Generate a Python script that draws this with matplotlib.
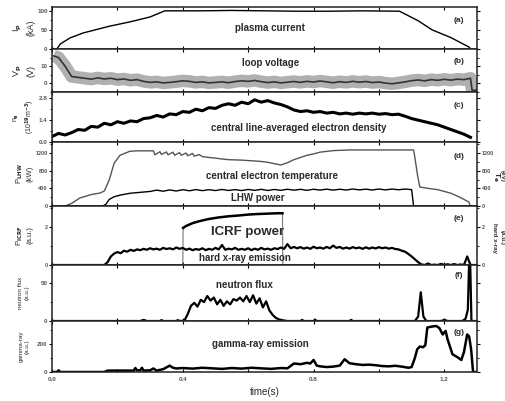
import numpy as np
import matplotlib
matplotlib.use('Agg')
import matplotlib.pyplot as plt
from matplotlib.ticker import MultipleLocator, AutoMinorLocator, FormatStrFormatter

plt.rcParams['font.family'] = ['Liberation Sans', 'DejaVu Sans']
plt.rcParams['font.weight'] = 'bold'
plt.rcParams['mathtext.default'] = 'bf'

# (a) plasma current, kA
ip_t = [0.0, 0.015, 0.025, 0.04, 0.055, 0.095, 0.177, 0.238, 0.30, 0.345, 0.45, 0.55,
        0.65, 0.75, 0.85, 0.95, 1.063, 1.12, 1.163, 1.22, 1.276, 1.28]
ip = [0, 0, 13, 21, 29, 42, 60, 71, 84, 100, 100, 101, 100, 99, 99, 100, 99, 74, 50, 30, 5, 0]

# (b) loop voltage, V (sampled every 20 ms, plus start and end points)
vp_t = np.r_[0.005, np.arange(0.02, 1.285, 0.02), 1.285, 1.30]
vp = [16,
      15, 10, 4, 3.5, 3, 2.5, 3.2, 2.6, 3, 2.2, 2.6, 1.8, 2.2, 1.2, 0.6, 0.9,
      0.3, 0.6, 1.0, 1.5, 1.2, 0.6, 0.9, 0.3, 0.6, 0.9, 0.4, 1.1, 1.5, 1.2,
      1.7, 1.0, 0.5, 0.9, 0.3, 0.7, 1.1, 0.6, 1.2, 0.8, 1.4, 0.9, 0.4, 1.0,
      0.6, 1.2, 0.7, 1.1, 0.5, 0.8, 0.2, -0.2, 0.3, 0.9, 1.6, 2.0, 1.5, 2.2,
      1.8, 2.4, 1.9, 2.5, 2.2, 3.0,
      -4, -4]

# (c) line-averaged density, 1e19 m^-3 (every 20 ms)
ne_t = np.arange(0.0, 1.285, 0.02)
ne = [0.35, 0.55, 0.45, 0.6, 0.8, 0.75, 1.0, 0.95, 1.2, 1.1, 1.3, 1.2, 1.35,
      1.3, 1.5, 1.55, 1.7, 1.6, 1.8, 1.75, 1.95, 1.9, 2.1, 2.0, 2.2, 2.15,
      2.35, 2.45, 2.35, 2.55, 2.45, 2.7, 2.55, 2.65, 2.5, 2.4, 2.25, 2.05,
      1.95, 2.0, 1.9, 1.95, 1.85, 1.9, 1.8, 1.85, 1.78, 1.85, 1.8, 1.85, 1.78,
      1.82, 1.75, 1.78, 1.65, 1.5, 1.4, 1.3, 1.2, 1.1, 0.95, 0.8, 0.65, 0.5, 0.3]

# (d) central electron temperature, eV
te_t = [0, 0.04, 0.06, 0.085, 0.12, 0.147, 0.16, 0.175, 0.19, 0.208,
        0.238, 0.26, 0.31,
        0.315, 0.33, 0.335, 0.35, 0.355, 0.37, 0.375, 0.39, 0.395, 0.41,
        0.415, 0.43, 0.435, 0.45,
        0.46, 0.48, 0.50, 0.52, 0.54, 0.56, 0.58, 0.60, 0.62, 0.64,
        0.66, 0.68, 0.70, 0.72, 0.74, 0.76, 0.78, 0.80, 0.82, 0.86,
        0.91, 0.96, 1.00, 1.04, 1.08, 1.106,
        1.11, 1.118, 1.125, 1.15, 1.18, 1.22, 1.25, 1.275, 1.28, 1.30]
te = [0, 0, 60, 181, 260, 294, 340, 590, 970, 1150,
      1240, 1250, 1250,
      1160, 1230, 1170, 1225, 1160, 1220, 1150, 1210, 1150, 1200,
      1140, 1190, 1130, 1165,
      1120, 1100, 1085, 1065, 1050, 1045, 1040, 1030, 1020, 1010,
      990, 960, 930, 980, 1050, 1100, 1150, 1180, 1220, 1255,
      1270, 1270, 1270, 1270, 1270, 1270,
      1100, 700, 430, 400, 370, 290, 190, 90, 0, 0]

# (d) LHW power, kW
lhw_t = np.r_[[0, 0.155, 0.165, 0.175, 0.19, 0.21, 0.24, 0.27],
              np.arange(0.30, 1.105, 0.02), [1.106, 1.30]]
lhw = [0, 0, 40, 150, 210, 250, 290, 310,
       330, 360, 335, 365, 340, 370, 345, 372, 348, 370,
       350, 375, 352, 372, 350, 375, 355, 378, 352, 375,
       355, 380, 358, 378, 355, 380, 360, 382, 360, 380,
       362, 385, 365, 382, 362, 385, 365, 385, 368, 385,
       370,
       0, 0]

# (e) ICRF power and hard x-ray, a.u.
icrf_t = [0, 0.40, 0.401, 0.41, 0.43, 0.45, 0.48, 0.51, 0.54, 0.57, 0.60, 0.63,
          0.66, 0.69, 0.705, 0.706, 1.30]
icrf = [0, 0, 1.95, 2.05, 2.2, 2.3, 2.42, 2.5, 2.56, 2.6, 2.65, 2.68,
        2.7, 2.72, 2.72, 0, 0]

hxr_t = np.r_[0.0, np.arange(0.16, 1.305, 0.01)]
hxr = [0.0,
       0.0, 0.15, 0.45, 0.6, 0.68, 0.62, 0.75, 0.7, 0.8, 0.74,
       0.82, 0.78, 0.85, 0.8, 0.88, 0.82, 0.86, 0.8, 0.9, 0.84,
       0.88, 0.82, 0.92, 0.85, 0.9, 0.8, 0.86, 0.78, 0.84, 0.8,
       0.88, 0.78, 0.85, 0.8, 0.9, 0.82, 1.05, 0.8, 0.86, 0.82,
       0.9, 0.8, 0.85, 0.8, 0.88, 0.78, 0.86, 0.8, 0.9, 0.82,
       0.86, 0.8, 0.88, 0.84, 0.92, 0.85, 1.1, 0.88, 0.95, 0.88,
       0.94, 0.86, 0.92, 0.85, 0.96, 0.88, 0.92, 0.86, 0.95, 0.88,
       1.02, 0.9, 0.95, 0.86, 0.92, 0.86, 0.94, 0.88, 0.92, 0.85,
       0.93, 0.86, 0.92, 0.87, 0.94, 0.88, 0.92, 0.86, 0.9, 0.84,
       0.82, 0.75, 0.7, 0.58, 0.45, 0.3, 0.15, 0.03, 0.0, 0.08,
       0.0, 0.02, 0.0, 0.06, 0.0, 0.04, 0.0, 0.05, 0.0, 0.03,
       0.0, 0.45, 0.0, 0.0, 0.0]

# (f) neutron flux, a.u.
nf_t = [0, 0.27, 0.28, 0.29, 0.33, 0.335, 0.34, 0.38, 0.385, 0.39,
        0.405, 0.415, 0.425, 0.435, 0.445, 0.455, 0.465, 0.475, 0.485, 0.495,
        0.505, 0.515, 0.525, 0.535, 0.545, 0.555, 0.565, 0.575, 0.585, 0.595,
        0.605, 0.615, 0.625, 0.635, 0.645, 0.655, 0.665, 0.675, 0.685, 0.695,
        0.705, 0.72, 0.76, 0.765, 0.77, 0.80, 0.805, 0.81, 0.91, 0.915, 0.92,
        1.11, 1.12, 1.128, 1.136, 1.145, 1.19, 1.20, 1.21,
        1.255, 1.265, 1.272, 1.276, 1.279, 1.283, 1.30]
nf = [0, 0, 1.5, 0, 0, 1.2, 0, 0, 1.2, 0,
      0.5, 9, 20, 24, 19, 28, 25, 33, 27, 31,
      22, 28, 20, 26, 22, 29, 27, 31, 26, 33,
      25, 34, 23, 30, 18, 26, 14, 8, 4, 2,
      1, 0, 0, 1.5, 0, 0, 1.5, 0, 0, 1.5, 0,
      0, 6, 38, 6, 0, 0, 1.5, 0,
      0, 3, 15, 80, 80, 0, 0]

# (g) gamma-ray emission, a.u.
g_t = [0, 0.015, 0.02, 0.025, 0.16, 0.17, 0.25, 0.255, 0.26, 0.27, 0.275, 0.28,
       0.30, 0.31, 0.32, 0.34, 0.36, 0.37, 0.38, 0.40,
       0.43, 0.46, 0.49, 0.52, 0.55, 0.58, 0.61, 0.64, 0.67, 0.70,
       0.72, 0.74, 0.76, 0.78, 0.79, 0.80, 0.81, 0.82,
       0.84, 0.86, 0.88, 0.895, 0.91, 0.93, 0.95, 0.97, 0.99,
       1.01, 1.03, 1.05, 1.07, 1.09, 1.10,
       1.11, 1.117, 1.125, 1.135, 1.142, 1.148, 1.16, 1.175, 1.185, 1.195,
       1.204, 1.21, 1.225, 1.24, 1.252, 1.26, 1.27, 1.276, 1.282, 1.288, 1.30]
g = [0, 0, 12, 0, 0, 10, 10, 28, 12, 12, 30, 10,
     12, 25, 10, 20, 45, 30, 25, 28,
     24, 30, 26, 22, 28, 24, 30, 26, 22, 28,
     26, 60, 55, 65, 60, 85, 45, 40,
     35, 38, 45, 90, 62, 55, 50, 52, 48,
     42, 40, 44, 38, 30, 35,
     100, 160, 180, 175, 190, 314, 320, 325, 310, 265,
     290, 230, 125, 105, 85, 140, 265, 250, 160, 0, 0]

txt = '#2a2a2a'
fig = plt.figure(figsize=(5.06, 4.01), dpi=100)
gs = fig.add_gridspec(7, 1, height_ratios=[42, 43, 50, 64, 59, 56, 51],
                      left=0.1028, right=0.9427, top=0.9825, bottom=0.0723, hspace=0)
axes = [fig.add_subplot(gs[i]) for i in range(7)]
a, b, c, d, e, f, gax = axes

a.plot(ip_t, ip, color='k', lw=1.0)
a.set_ylim(0, 110)
a.set_yticks([0, 50, 100])

b.plot(vp_t, vp, color='#b0b0b0', lw=9, solid_capstyle='butt', solid_joinstyle='round')
b.plot(vp_t, vp, color='#333333', lw=1.2)
b.set_ylim(-5, 20)
b.set_yticks([0, 10])

c.plot(ne_t, ne, color='k', lw=2.2)
c.set_ylim(0, 3.2)
c.set_yticks([0.0, 1.4, 2.8])
c.yaxis.set_major_formatter(FormatStrFormatter('%.1f'))

d.plot(te_t, te, color='#555555', lw=1.0)
d.plot(lhw_t, lhw, color='k', lw=1.0)
d.set_ylim(0, 1450)
d.set_yticks([0, 400, 800, 1200])

e.plot(icrf_t, icrf, color='#777777', lw=0.8)
icrf_top = np.ma.masked_less(np.array(icrf, float), 1.0)
e.plot(icrf_t, icrf_top, color='k', lw=1.8)
e.plot(hxr_t, hxr, color='k', lw=1.6)
e.set_ylim(0, 3.1)
e.set_yticks([0, 2])

f.plot(nf_t, nf, color='k', lw=1.6)
f.set_ylim(0, 74)
f.set_yticks([0, 50])

gax.plot(g_t, g, color='k', lw=1.8)
gax.set_ylim(0, 360)
gax.set_yticks([0, 200])

for ax in axes:
    ax.set_xlim(0, 1.3)
    ax.xaxis.set_major_locator(MultipleLocator(0.4))
    ax.xaxis.set_minor_locator(MultipleLocator(0.2))
    ax.yaxis.set_minor_locator(AutoMinorLocator(2))
    ax.tick_params(axis='x', which='both', direction='in', top=True, length=2.5,
                   width=0.8, labelbottom=False, labelsize=4.5, labelcolor='#555555')
    ax.tick_params(axis='y', which='major', direction='out', left=True, right=True,
                   length=2.2, width=0.8, labelsize=4.5, labelcolor='#555555', pad=1)
    ax.tick_params(axis='y', which='minor', direction='out', left=True, right=True,
                   length=1.2, width=0.6)
    for s in ax.spines.values():
        s.set_linewidth(1.1)
        s.set_color('#222222')

d.tick_params(axis='y', labelright=True, labelsize=4)
e.tick_params(axis='y', labelright=True, labelsize=4)

gax.tick_params(axis='x', labelbottom=True)
gax.xaxis.set_major_formatter(FormatStrFormatter('%.1f'))
gax.set_xlabel('time(s)', fontsize=7, color=txt, labelpad=4)

ylabels = [
    (a, 'I$_p$\n(kA)', 6.5),
    (b, 'V$_p$\n(V)', 6.5),
    (c, 'n$_e$\n(10$^{19}$m$^{-3}$)', 5),
    (d, 'P$_{LHW}$\n(kW)', 5.5),
    (e, 'P$_{ICRF}$\n(a.u.)', 5.5),
    (f, 'neutron flux\n(a.u.)', 4.5),
    (gax, 'gamma-ray\n(a.u.)', 4.5),
]
for ax, lab, fs in ylabels:
    ax.set_ylabel(lab, fontsize=fs, color=txt, linespacing=1.3, va='center')
    ax.yaxis.set_label_coords(-0.066, 0.5)

# curve names inside each panel
names = [
    (a, 'plasma current', 0.513, 0.50, 7),
    (b, 'loop voltage', 0.515, 0.67, 7),
    (c, 'central line-averaged electron density', 0.58, 0.28, 7),
    (d, 'central electron temperature', 0.518, 0.47, 7),
    (d, 'LHW power', 0.484, 0.125, 7),
    (e, 'ICRF power', 0.46, 0.56, 9.5),
    (e, 'hard x-ray emission', 0.454, 0.12, 7),
    (f, 'neutron flux', 0.452, 0.64, 7),
    (gax, 'gamma-ray emission', 0.49, 0.55, 7),
]
for ax, s, x, y, fs in names:
    ax.text(x, y, s, transform=ax.transAxes, ha='center', va='center',
            fontsize=fs, color=txt)

letters = [(a, '(a)', 0.69), (b, '(b)', 0.70), (c, '(c)', 0.74), (d, '(d)', 0.78),
           (e, '(e)', 0.78), (f, '(f)', 0.82), (gax, '(g)', 0.78)]
for ax, s, y in letters:
    ax.text(0.957, y, s, transform=ax.transAxes, ha='center', va='center',
            fontsize=6, color=txt)

# right-hand axis titles
fig.text(496 / 506, 1 - 176 / 401, 'T$_e$', rotation=270, fontsize=6,
         color=txt, ha='center', va='center')
fig.text(502.5 / 506, 1 - 176 / 401, '(eV)', rotation=270, fontsize=4.5,
         color=txt, ha='center', va='center')
fig.text(495 / 506, 1 - 238 / 401, 'hard x-ray', rotation=270, fontsize=4.5,
         color=txt, ha='center', va='center')
fig.text(502 / 506, 1 - 238 / 401, '(a.u.)', rotation=270, fontsize=4.5,
         color=txt, ha='center', va='center')

fig.savefig('out.png', dpi=100)
